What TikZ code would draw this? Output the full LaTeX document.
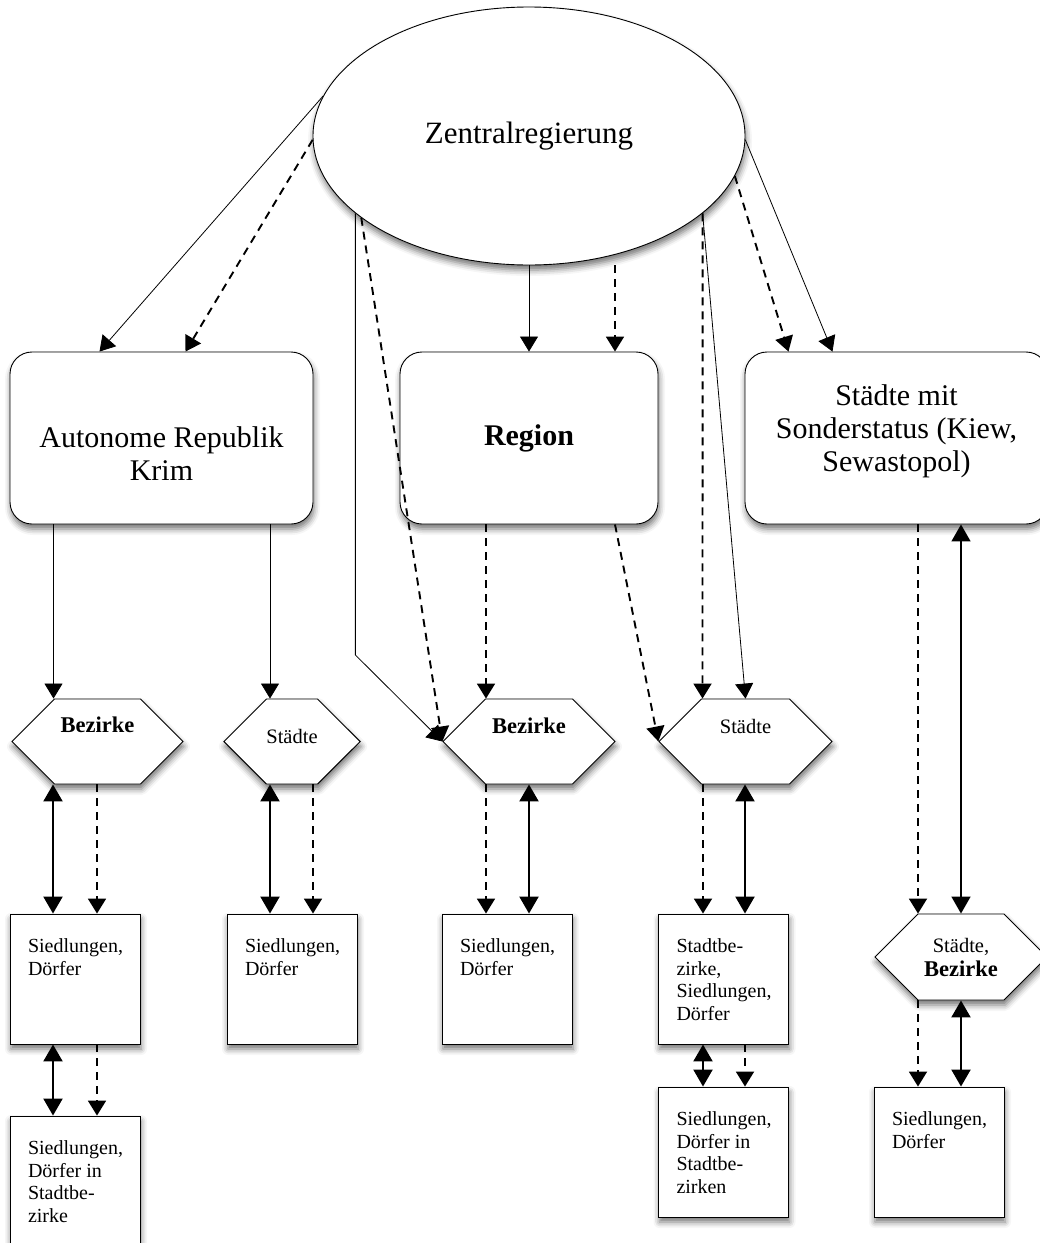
\documentclass[tikz,border=0pt]{standalone}
\usepackage{fontspec}
\setmainfont{Liberation Serif}
\usetikzlibrary{arrows.meta,shapes.geometric,shapes.symbols,shadows.blur}

\newcommand{\boxtext}[1]{\parbox[t][80pt][t]{94pt}{\raggedright\hyphenpenalty=10000 #1}}

\begin{document}
\begin{tikzpicture}[x=1pt, y=-1pt,
  soft shadow/.style={blur shadow={shadow xshift=1pt, shadow yshift=-5pt, shadow blur radius=6pt, shadow opacity=55}},
  govoval/.style={shape=ellipse, draw=black, line width=0.9pt, fill=white, soft shadow, minimum width=432pt, minimum height=258pt, font=\fontsize{31}{34}\selectfont},
  tierbox/.style={shape=rectangle, rounded corners=22pt, draw=black, line width=0.9pt, fill=white, soft shadow, minimum height=172pt, align=center, font=\fontsize{30}{33}\selectfont},
  hexbox/.style={shape=signal, signal to=east and west, signal pointer angle=90, draw=black, line width=0.9pt, fill=white, soft shadow, minimum width=171pt, minimum height=85pt, inner sep=0pt},
  flatbox/.style={shape=rectangle, draw=black, line width=0.9pt, fill=white, soft shadow, inner xsep=18pt, inner ysep=25pt, font=\fontsize{20}{22.5}\selectfont},
  thin arrow/.style={-{Triangle[width=18pt,length=15pt]}, line width=0.8pt},
  dash arrow/.style={-{Triangle[width=18pt,length=15pt]}, line width=1.9pt, dash pattern=on 8pt off 6pt},
  both arrow/.style={{Triangle[width=19pt,length=17pt]}-{Triangle[width=19pt,length=17pt]}, line width=2.2pt}]
\useasboundingbox (0,0) rectangle (1040,1243);

% top
\node[govoval] (zr) at (529,136) {Zentralregierung};

% second row
\node[tierbox, minimum width=303pt] (krim) at (161.5,438) {\rule{0pt}{52pt}Autonome Republik\\Krim};
\node[tierbox, minimum width=258pt, font=\fontsize{30}{33}\selectfont\bfseries] (reg) at (529,438) {Region};
\node[tierbox, minimum width=303pt] (sst) at (896.5,438) {Städte mit\\Sonderstatus (Kiew,\\Sewastopol)\rule[-19pt]{0pt}{1pt}};

% hexagons
\node[hexbox, font=\fontsize{22.5}{25}\selectfont\bfseries, text height=16pt, text depth=35pt] (bz1) at (97.5,741.5) {Bezirke};
\node[hexbox, minimum width=128pt, font=\fontsize{20.5}{23}\selectfont, text height=15pt, text depth=12pt] (st1) at (292,741.5) {Städte};
\node[hexbox, minimum width=172pt, font=\fontsize{22.5}{25}\selectfont\bfseries, text height=16pt, text depth=33pt] (bz2) at (529,741.5) {Bezirke};
\node[hexbox, minimum width=173pt, font=\fontsize{20.5}{23}\selectfont, text height=15pt, text depth=32pt] (st2) at (745.5,741.5) {Städte};
\node[hexbox, minimum width=172pt, minimum height=86pt, align=center, font=\fontsize{20.5}{24}\selectfont] (sb3) at (961,957) {Städte,\\{\fontsize{22.5}{24}\selectfont\bfseries Bezirke}};

% squares
\node[flatbox] (sd1) at (75,979) {\boxtext{Siedlungen,\\Dörfer}};
\node[flatbox] (sd1b) at (75,1181) {\boxtext{Siedlungen,\\Dörfer in\\Stadtbe-\\zirke}};
\node[flatbox] (sd2) at (292,979) {\boxtext{Siedlungen,\\Dörfer}};
\node[flatbox] (sd3) at (507,979) {\boxtext{Siedlungen,\\Dörfer}};
\node[flatbox] (sd4) at (723.5,979) {\boxtext{Stadtbe-\\zirke,\\Siedlungen,\\Dörfer}};
\node[flatbox] (sd4b) at (723.5,1152) {\boxtext{Siedlungen,\\Dörfer in\\Stadtbe-\\zirken}};
\node[flatbox] (sd5) at (939,1152) {\boxtext{Siedlungen,\\Dörfer}};

\coordinate (knick) at (356,655);

% from the central government
\path [thin arrow] (zr.169) edge ([xshift=-62pt]krim.north);
\path [dash arrow] (zr.181) edge ([xshift=24pt]krim.north);
\draw [thin arrow] (zr.204) -- (zr.204 |- knick) -- (bz2.west);
\path [dash arrow] (zr.206) edge (bz2.west);
\path [thin arrow] (zr.south) edge (reg.north);
\path [dash arrow] ([xshift=86pt]zr.south) edge ([xshift=86pt]reg.north);
\path [thin arrow] (zr.-24) edge (st2.north);
\path [dash arrow] (zr.-24) edge ([xshift=-43pt]st2.north);
\path [dash arrow] (zr.-11) edge ([xshift=-108pt]sst.north);
\path [thin arrow] (zr.-1) edge ([xshift=-64pt]sst.north);

% second row to hexagons
\path [thin arrow] ([xshift=-44pt]bz1.north |- krim.south) edge ([xshift=-44pt]bz1.north);
\path [thin arrow] ([xshift=-22pt]st1.north |- krim.south) edge ([xshift=-22pt]st1.north);
\path [dash arrow] ([xshift=-43pt]reg.south) edge ([xshift=-43pt]bz2.north);
\path [dash arrow] ([xshift=86pt]reg.south) edge (st2.west);
\path [dash arrow] ([xshift=21.5pt]sst.south) edge ([xshift=-43pt]sb3.north);
\path [both arrow, line width=1.5pt] (sst.south -| sb3.north) edge (sb3.north);

% hexagons to squares
\path [both arrow] ([xshift=-22pt]sd1.north |- bz1.south) edge ([xshift=-22pt]sd1.north);
\path [dash arrow] ([xshift=22pt]sd1.north |- bz1.south) edge ([xshift=22pt]sd1.north);
\path [both arrow] ([xshift=-22pt]sd2.north |- st1.south) edge ([xshift=-22pt]sd2.north);
\path [dash arrow] ([xshift=21pt]sd2.north |- st1.south) edge ([xshift=21pt]sd2.north);
\path [dash arrow] ([xshift=-21pt]sd3.north |- bz2.south) edge ([xshift=-21pt]sd3.north);
\path [both arrow] ([xshift=22pt]sd3.north |- bz2.south) edge ([xshift=22pt]sd3.north);
\path [dash arrow] ([xshift=-20.5pt]sd4.north |- st2.south) edge ([xshift=-20.5pt]sd4.north);
\path [both arrow] ([xshift=21.5pt]sd4.north |- st2.south) edge ([xshift=21.5pt]sd4.north);
\path [dash arrow] ([xshift=-21pt]sd5.north |- sb3.south) edge ([xshift=-21pt]sd5.north);
\path [both arrow] ([xshift=22pt]sd5.north |- sb3.south) edge ([xshift=22pt]sd5.north);

% squares to squares
\path [both arrow] ([xshift=-22pt]sd1.south) edge ([xshift=-22pt]sd1b.north);
\path [dash arrow] ([xshift=22pt]sd1.south) edge ([xshift=22pt]sd1b.north);
\path [both arrow] ([xshift=-20.5pt]sd4.south) edge ([xshift=-20.5pt]sd4b.north);
\path [dash arrow] ([xshift=21.5pt]sd4.south) edge ([xshift=21.5pt]sd4b.north);
\end{tikzpicture}
\end{document}
